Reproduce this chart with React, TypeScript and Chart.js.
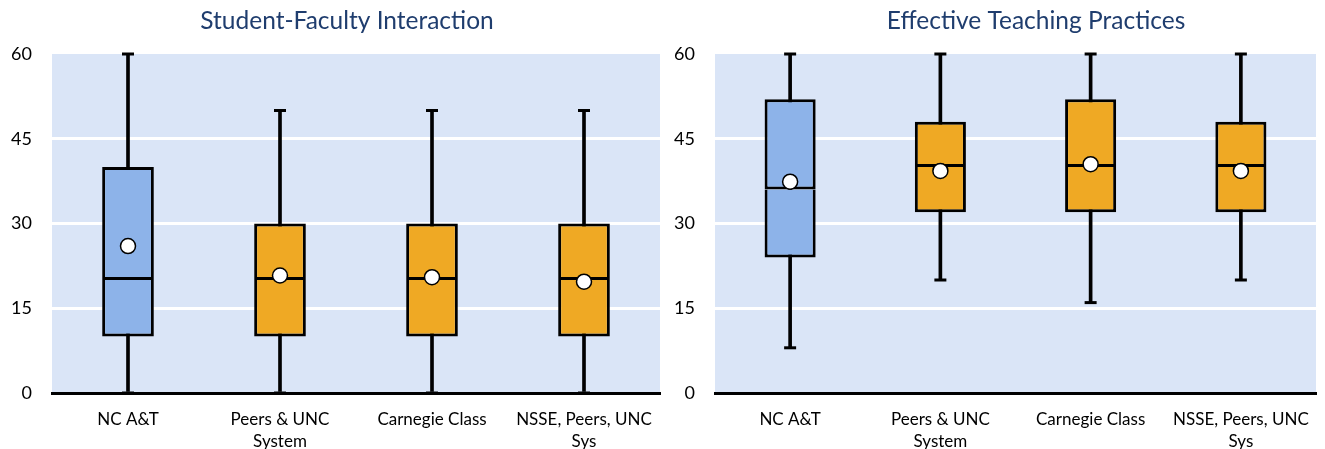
import React, { useEffect, useRef } from "react";
import { Chart, registerables } from "chart.js";

Chart.register(...registerables);

const categories: (string | string[])[] = [
  "NC A&T",
  ["Peers & UNC", "System"],
  "Carnegie Class",
  ["NSSE, Peers, UNC", "Sys"],
];
const yTicks = [0, 15, 30, 45, 60];

// Student-Faculty Interaction
const sfiMin = [0, 0, 0, 0];
const sfiQ1 = [10, 10, 10, 10];
const sfiMedian = [20, 20, 20, 20];
const sfiQ3 = [40, 30, 30, 30];
const sfiMax = [60, 50, 50, 50];
const sfiMean = [26.0, 20.8, 20.5, 19.7];

// Effective Teaching Practices
const etpMin = [8, 20, 16, 20];
const etpQ1 = [24, 32, 32, 32];
const etpMedian = [36, 40, 40, 40];
const etpQ3 = [52, 48, 52, 48];
const etpMax = [60, 60, 60, 60];
const etpMean = [37.4, 39.3, 40.5, 39.3];

const boxColors = ["#8DB3E9", "#EFA924", "#EFA924", "#EFA924"];
const PLOT_BG = "#DAE5F7";
const TITLE_COLOR = "#1F3D6E";
const FONT = "Lato, 'Open Sans', sans-serif";

const bgPlugin = {
  id: "plotBg",
  beforeDraw(chart: any) {
    const { ctx, chartArea } = chart;
    ctx.save();
    ctx.fillStyle = PLOT_BG;
    ctx.fillRect(chartArea.left, chartArea.top, chartArea.right - chartArea.left, chartArea.bottom - chartArea.top);
    ctx.restore();
  },
};

const titlePlugin = {
  id: "customTitle",
  afterDraw(chart: any, _args: any, opts: any) {
    const { ctx } = chart;
    ctx.save();
    ctx.font = `${opts.size}px ${FONT}`;
    ctx.fillStyle = TITLE_COLOR;
    ctx.textAlign = "center";
    ctx.textBaseline = "middle";
    ctx.fillText(opts.text, opts.x, opts.y);
    ctx.restore();
  },
};

type PanelProps = {
  title: string;
  titleX: number;
  width: number;
  axisWidth: number;
  mins: number[];
  q1: number[];
  medians: number[];
  q3: number[];
  maxs: number[];
  means: number[];
};

function BoxPanel(p: PanelProps) {
  const ref = useRef<HTMLCanvasElement>(null);
  useEffect(() => {
    if (!ref.current) return;
    const whiskers = p.mins.map((m, i) => [m, p.maxs[i]]);
    const lower = p.q1.map((v, i) => [v, p.medians[i]]);
    const upper = p.medians.map((v, i) => [v, p.q3[i]]);
    const boxCommon = {
      type: "bar" as const,
      backgroundColor: boxColors,
      borderColor: "#000",
      borderSkipped: false,
      barPercentage: 0.34,
      categoryPercentage: 1,
      grouped: false,
      inflateAmount: 0,
      clip: false as const,
    };
    const chart = new Chart(ref.current, {
      type: "bar",
      data: {
        labels: categories,
        datasets: [
          {
            type: "bar",
            data: whiskers as any,
            backgroundColor: "#000",
            borderWidth: 0,
            barThickness: 3,
            grouped: false,
            order: 5,
            clip: false,
          } as any,
          { ...boxCommon, data: lower as any, borderWidth: { top: 0, bottom: 3, left: 3, right: 3 }, order: 4 } as any,
          { ...boxCommon, data: upper as any, borderWidth: { top: 3, bottom: 3, left: 3, right: 3 }, order: 3 } as any,
          {
            type: "line",
            data: p.maxs,
            showLine: false,
            pointStyle: "line",
            pointRadius: 6,
            pointBorderWidth: 3,
            pointBorderColor: "#000",
            borderColor: "#000",
            order: 2,
            clip: false,
          } as any,
          {
            type: "line",
            data: p.mins,
            showLine: false,
            pointStyle: "line",
            pointRadius: 6,
            pointBorderWidth: 3,
            pointBorderColor: "#000",
            borderColor: "#000",
            order: 2,
            clip: false,
          } as any,
          {
            type: "line",
            data: p.means,
            showLine: false,
            pointStyle: "circle",
            pointRadius: 7.5,
            pointBorderWidth: 1.5,
            pointBackgroundColor: "#FFFFFF",
            pointBorderColor: "#000",
            order: 1,
            clip: false,
          } as any,
        ],
      },
      options: {
        responsive: false,
        animation: false,
        events: [],
        layout: { padding: { top: 54, left: 0, right: 0, bottom: 0 } },
        plugins: {
          legend: { display: false },
          tooltip: { enabled: false },
          title: { display: false },
          customTitle: { text: p.title, x: p.titleX, y: 21, size: 24.5 },
        } as any,
        scales: {
          x: {
            offset: true,
            grid: { display: false },
            border: { display: true, color: "#000", width: 3 },
            ticks: {
              color: "#000",
              font: { family: FONT, size: 17, lineHeight: 1.3 },
              padding: 7,
              maxRotation: 0,
              autoSkip: false,
            },
            afterFit: (s: any) => {
              s.height = 56;
            },
          },
          y: {
            min: yTicks[0],
            max: yTicks[yTicks.length - 1],
            afterBuildTicks: (s: any) => {
              s.ticks = yTicks.map((v) => ({ value: v }));
            },
            grid: {
              color: (c: any) => (c.tick && (c.tick.value === 0 || c.tick.value === 60) ? "rgba(0,0,0,0)" : "#FFFFFF"),
              lineWidth: 3,
              drawTicks: false,
            },
            border: { display: false },
            ticks: {
              color: "#000",
              font: { family: FONT, size: 18 },
              padding: 20,
            },
            afterFit: (s: any) => {
              s.width = p.axisWidth;
            },
          },
        },
      },
      plugins: [bgPlugin, titlePlugin],
    });
    return () => chart.destroy();
  }, []);
  return <canvas ref={ref} width={p.width} height={449} style={{ width: p.width, height: 449, display: "block" }} />;
}

export default function App() {
  return (
    <div style={{ position: "absolute", left: 0, top: 0, width: 1325, height: 449, overflow: "hidden", background: "#fff", display: "flex" }}>
      <BoxPanel
        title="Student-Faculty Interaction"
        titleX={347}
        width={669}
        axisWidth={52}
        mins={sfiMin}
        q1={sfiQ1}
        medians={sfiMedian}
        q3={sfiQ3}
        maxs={sfiMax}
        means={sfiMean}
      />
      <BoxPanel
        title="Effective Teaching Practices"
        titleX={367}
        width={656}
        axisWidth={46}
        mins={etpMin}
        q1={etpQ1}
        medians={etpMedian}
        q3={etpQ3}
        maxs={etpMax}
        means={etpMean}
      />
    </div>
  );
}
